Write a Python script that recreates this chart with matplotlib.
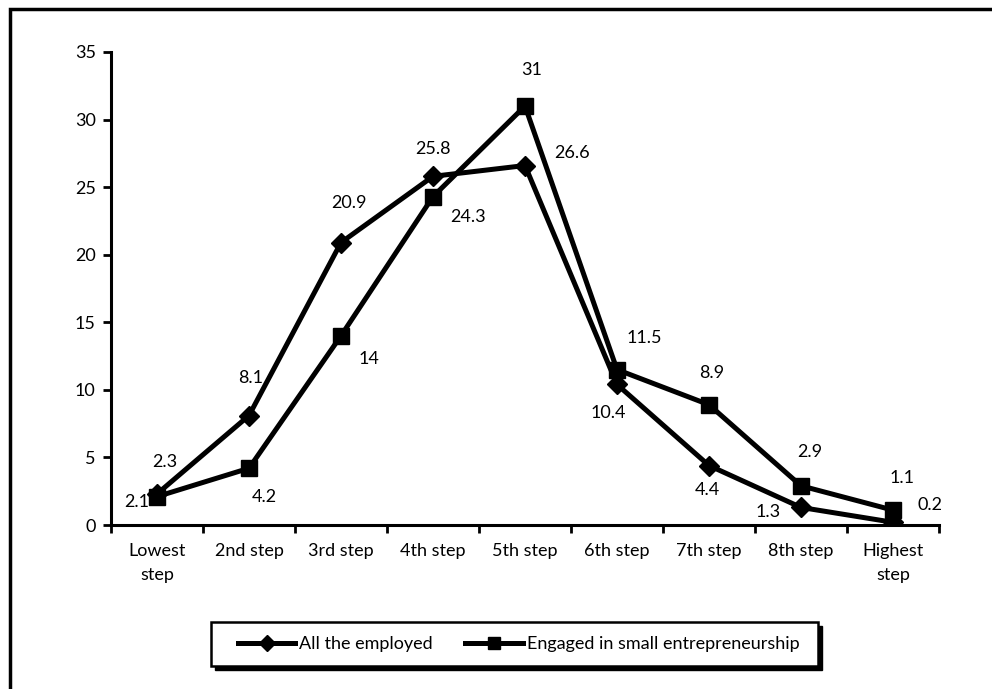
import matplotlib
matplotlib.use("Agg")
import matplotlib.pyplot as plt
from matplotlib.patches import Rectangle

categories = ["Lowest\nstep", "2nd step", "3rd step", "4th step", "5th step",
              "6th step", "7th step", "8th step", "Highest\nstep"]
all_employed = [2.3, 8.1, 20.9, 25.8, 26.6, 10.4, 4.4, 1.3, 0.2]
small_entre = [2.1, 4.2, 14, 24.3, 31, 11.5, 8.9, 2.9, 1.1]
series_names = ["All the employed", "Engaged in small entrepreneurship"]
y_ticks = [0, 5, 10, 15, 20, 25, 30, 35]

# label offsets in pixels (dx, dy with dy positive = down)
off_all = [(8, -32), (2, -38), (8, -40), (0, -27), (47, -13), (-9, 29), (-2, 24), (-33, 5), (37, -17)]
off_sm = [(-20, 5), (15, 29), (28, 23), (35, 20), (7, -36), (27, -32), (3, -32), (9, -34), (9, -32)]

plt.rcParams['font.family'] = ['Lato', 'DejaVu Sans']
FS = 13

W, H = 992, 689
fig = plt.figure(figsize=(W/100, H/100), dpi=100)
ax = fig.add_axes([111/W, 1-525/H, (939-111)/W, (525-52)/H])

x = list(range(len(categories)))
ax.plot(x, all_employed, color='black', lw=3.6, marker='D', ms=10, zorder=3,
        label=series_names[0])
ax.plot(x, small_entre, color='black', lw=3.6, marker='s', ms=11.5, zorder=3,
        label=series_names[1])

px = 0.72
for i in x:
    dx, dy = off_all[i]
    ax.annotate(f"{all_employed[i]:g}", (i, all_employed[i]), xytext=(dx*px, -dy*px),
                textcoords='offset points', ha='center', va='center', fontsize=FS)
    dx, dy = off_sm[i]
    ax.annotate(f"{small_entre[i]:g}", (i, small_entre[i]), xytext=(dx*px, -dy*px),
                textcoords='offset points', ha='center', va='center', fontsize=FS)

ax.set_xlim(-0.5, len(categories)-0.5)
ax.set_ylim(0, 35)
ax.set_yticks(y_ticks)
ax.set_yticklabels([str(v) for v in y_ticks], fontsize=FS)
ax.set_xticks([i - 0.5 for i in range(len(categories)+1)])
ax.set_xticklabels([])
ax.set_xticks(x, minor=True)
ax.set_xticklabels(categories, minor=True, fontsize=FS, linespacing=1.6)
ax.tick_params(axis='x', which='minor', length=0, pad=13)
ax.tick_params(axis='x', which='major', length=6, width=2, direction='out')
ax.tick_params(axis='y', length=6, width=2, direction='out', pad=5)
for s in ['top', 'right']:
    ax.spines[s].set_visible(False)
for s in ['left', 'bottom']:
    ax.spines[s].set_linewidth(2.2)

# figure border (top and left visible)
fig.add_artist(Rectangle((10/W, -0.5), 2, 0.5 + 1 - 9/H, transform=fig.transFigure,
                         fill=False, edgecolor='black', lw=2.5))

# legend box with black shadow
bx0, bx1, by0, by1 = 211, 818, 622, 666
fig.add_artist(Rectangle(((bx0+4)/W, 1-(by1+4)/H), (bx1-bx0)/W, (by1-by0)/H,
                         transform=fig.transFigure, facecolor='black', edgecolor='black',
                         lw=1, zorder=5))
fig.add_artist(Rectangle((bx0/W, 1-by1/H), (bx1-bx0)/W, (by1-by0)/H,
                         transform=fig.transFigure, facecolor='white', edgecolor='black',
                         lw=1.8, zorder=6))
leg = fig.legend(loc='center', bbox_to_anchor=((bx0+bx1)/2/W + 0.004, 1-(by0+by1)/2/H), ncol=2,
                 fontsize=FS, frameon=False, handlelength=3.2, columnspacing=1.8,
                 handletextpad=0.2, borderpad=0.3)
leg.set_zorder(7)
for h in leg.legend_handles:
    h.set_markersize(8)

fig.savefig("out.png", dpi=100)
